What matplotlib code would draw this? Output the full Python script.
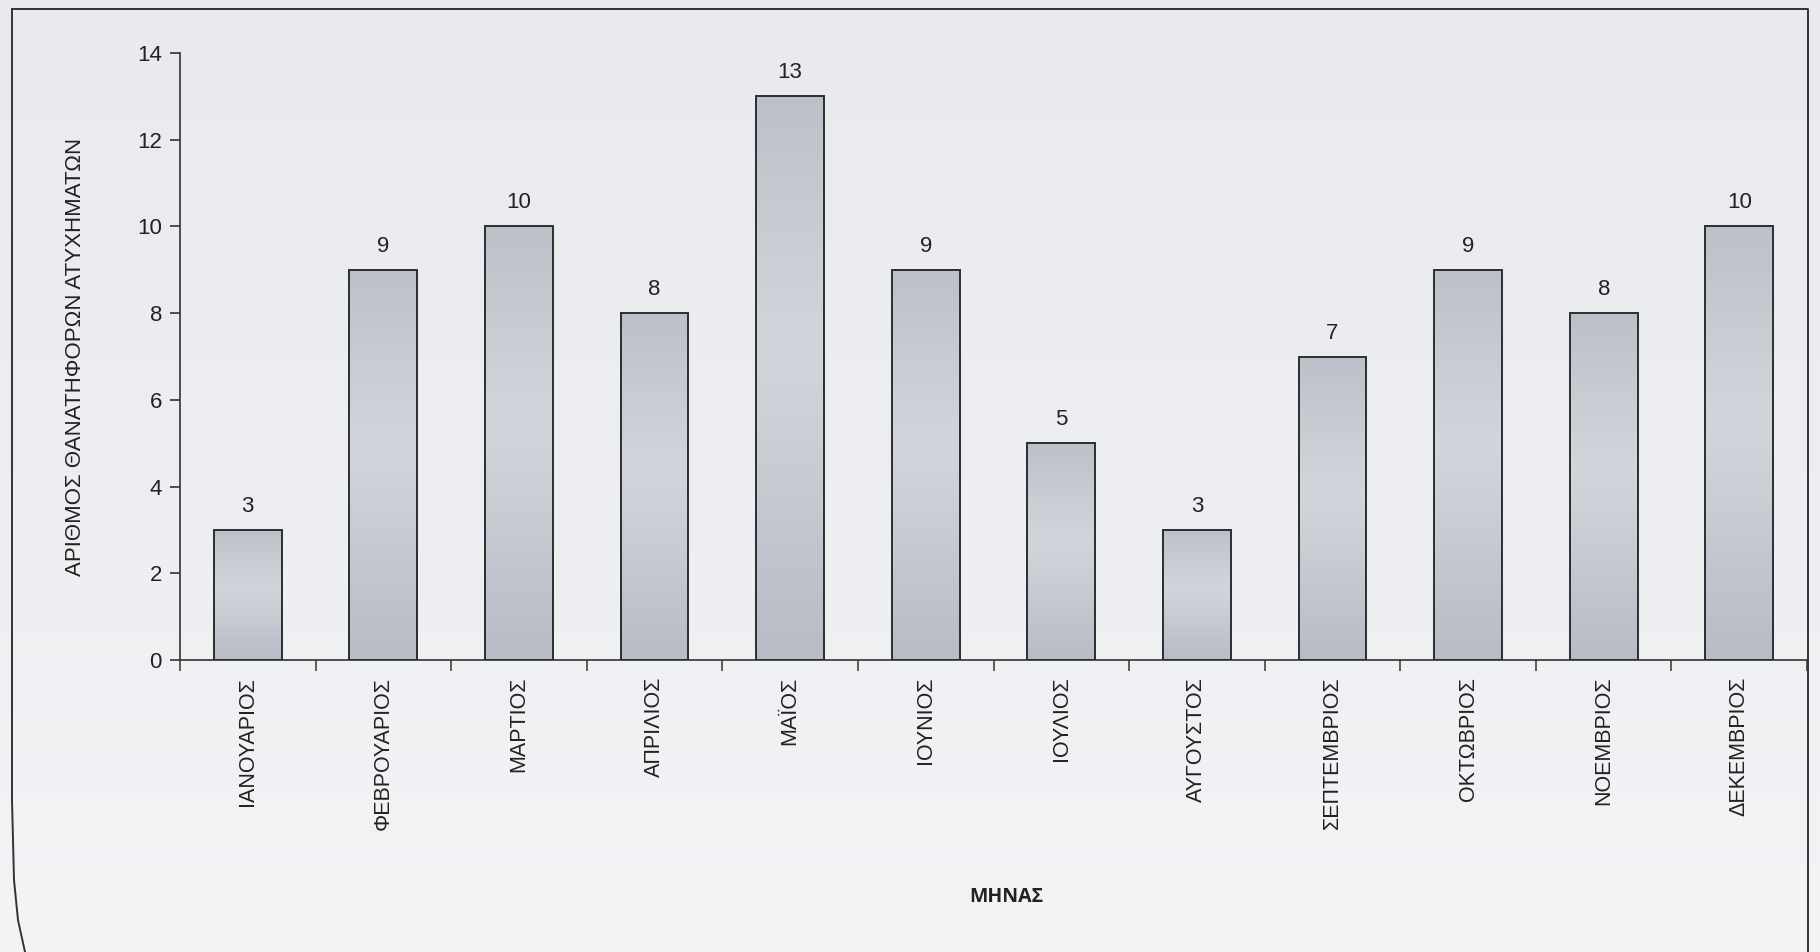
import numpy as np
import matplotlib
matplotlib.use("Agg")
import matplotlib.pyplot as plt
from matplotlib.lines import Line2D

plt.rcParams['font.family'] = ['Liberation Sans', 'DejaVu Sans']

# Θανατηφόρα ατυχήματα ανά μήνα
minas = ['ΙΑΝΟΥΑΡΙΟΣ', 'ΦΕΒΡΟΥΑΡΙΟΣ', 'ΜΑΡΤΙΟΣ', 'ΑΠΡΙΛΙΟΣ', 'ΜΑΪΟΣ', 'ΙΟΥΝΙΟΣ',
         'ΙΟΥΛΙΟΣ', 'ΑΥΓΟΥΣΤΟΣ', 'ΣΕΠΤΕΜΒΡΙΟΣ', 'ΟΚΤΩΒΡΙΟΣ', 'ΝΟΕΜΒΡΙΟΣ', 'ΔΕΚΕΜΒΡΙΟΣ']
atyximata = [3, 9, 10, 8, 13, 9, 5, 3, 7, 9, 8, 10]
y_ticks = [0, 2, 4, 6, 8, 10, 12, 14]

fig = plt.figure(figsize=(18.2, 9.52), dpi=100, facecolor='#eceef1')

# φόντο σελίδας, λίγο πιο σκούρο πάνω
bg = fig.add_axes([0, 0, 1, 1], zorder=-10)
bg.imshow(np.linspace(0, 1, 200).reshape(-1, 1), cmap=matplotlib.colors.LinearSegmentedColormap.from_list(
    'bg', ['#e8eaee', '#eceef1', '#f3f4f6']), aspect='auto', extent=[0, 1, 0, 1], origin='upper')
bg.axis('off')

ax = fig.add_axes([0.0989, 0.3067, 0.894, 0.6376])
ax.patch.set_alpha(0)

x = np.arange(len(minas))
bars = ax.bar(x, atyximata, width=0.5, color='none', edgecolor='#2b2d30', linewidth=1.4, zorder=3)

# Διαβάθμιση γκρι μέσα σε κάθε μπάρα
grad = np.linspace(0, 1, 256).reshape(-1, 1)
cmap = matplotlib.colors.LinearSegmentedColormap.from_list(
    'g', [(0, '#bcc1c9'), (0.45, '#d2d6dc'), (1, '#b7bcc5')])
for b in bars:
    x0, y0 = b.get_x(), b.get_y()
    w, h = b.get_width(), b.get_height()
    im = ax.imshow(grad[::-1], cmap=cmap, aspect='auto', extent=[x0, x0 + w, y0, y0 + h],
                   origin='lower', zorder=2)
    im.set_clip_path(b)

for xi, v in zip(x, atyximata):
    ax.text(xi, v + 0.3, str(v), ha='center', va='bottom', fontsize=16, color='#222222')

ax.set_xlim(-0.5, len(minas) - 0.5)
ax.set_ylim(0, 14)
ax.set_yticks(y_ticks)
ax.tick_params(axis='y', labelsize=16, length=7, width=1.1, colors='#222222', pad=6)

ax.set_xticks(x)
ax.set_xticklabels(minas, rotation=90, fontsize=15.5, color='#222222')
ax.tick_params(axis='x', length=0, pad=12)
ax.set_xticks(np.arange(-0.5, len(minas), 1), minor=True)
ax.tick_params(axis='x', which='minor', length=8, width=1.1, color='#333333')

for s in ['top', 'right']:
    ax.spines[s].set_visible(False)
for s in ['left', 'bottom']:
    ax.spines[s].set_color('#333333')
    ax.spines[s].set_linewidth(1.2)

ax.set_ylabel('ΑΡΙΘΜΟΣ ΘΑΝΑΤΗΦΟΡΩΝ ΑΤΥΧΗΜΑΤΩΝ', fontsize=16, color='#222222', labelpad=37)
ax.set_xlabel('ΜΗΝΑΣ', fontsize=14, fontweight='bold', color='#222222', labelpad=41,
              family=['Open Sans', 'DejaVu Sans'])
ax.xaxis.label.set_x(0.508)

# Πλαίσιο σελίδας
W, H = 1820, 952
fx = [12 / W, 1808 / W, 1808 / W]
fy = [1 - 9 / H, 1 - 9 / H, 0]
fig.add_artist(Line2D(fx, fy, transform=fig.transFigure, color='#333333', lw=1.4))
lx = [12 / W, 12 / W, 14 / W, 18 / W, 25 / W]
ly = [1 - 9 / H, 1 - 800 / H, 1 - 880 / H, 1 - 920 / H, 0]
fig.add_artist(Line2D(lx, ly, transform=fig.transFigure, color='#333333', lw=1.4))

fig.savefig('out.png', dpi=100)
